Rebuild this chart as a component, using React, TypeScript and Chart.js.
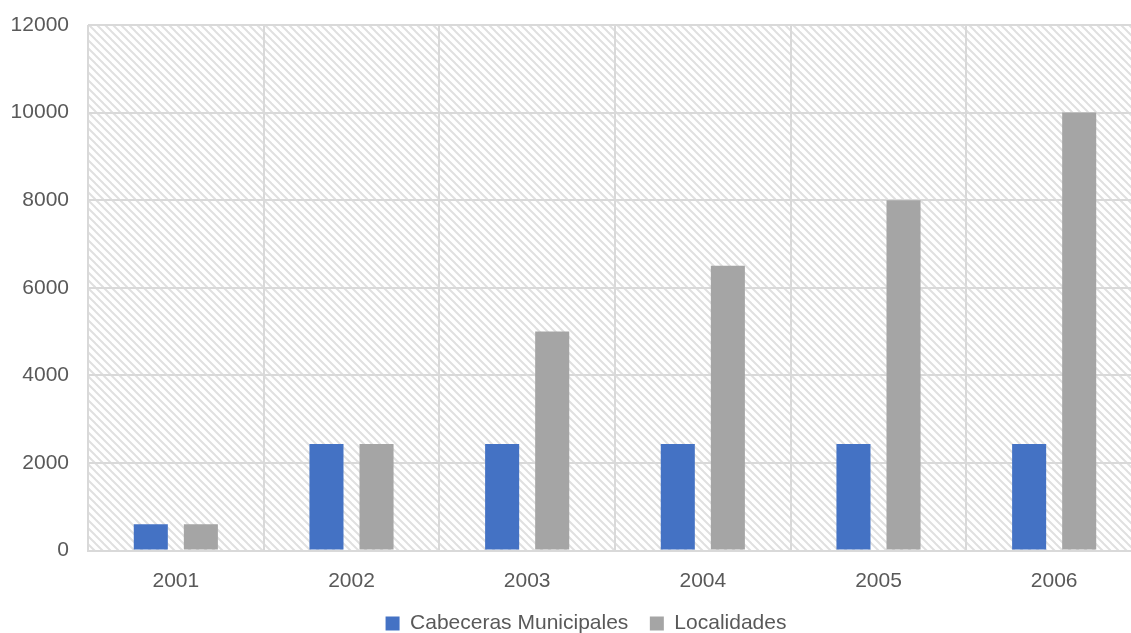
import React, { useEffect, useRef } from "react";
import { Chart, registerables } from "chart.js";

Chart.register(...registerables);

const years = ["2001", "2002", "2003", "2004", "2005", "2006"];
const cabeceras = [600, 2430, 2430, 2430, 2430, 2430];
const localidades = [600, 2430, 5000, 6500, 8000, 10000];
const yMax = 12000;
const yStep = 2000;

const FONT = "'Liberation Sans', Arial, sans-serif";
const TEXT = "#595959";
const GRID = "#d9d9d9";

// Light downward-diagonal hatch used as the plot-area fill
function makeHatch(): CanvasPattern | string {
  const c = document.createElement("canvas");
  c.width = 8;
  c.height = 8;
  const g = c.getContext("2d");
  if (!g) return "#ffffff";
  g.fillStyle = "#ffffff";
  g.fillRect(0, 0, 8, 8);
  g.strokeStyle = "#e0e0e0";
  g.lineWidth = 2;
  for (const k of [-8, 0, 8]) {
    g.beginPath();
    g.moveTo(k - 1, -1);
    g.lineTo(k + 9, 9);
    g.stroke();
  }
  return g.createPattern(c, "repeat") || "#ffffff";
}

const hatchBackground = {
  id: "hatchBackground",
  beforeDraw(chart: any) {
    const { ctx, chartArea } = chart;
    if (!chartArea) return;
    ctx.save();
    ctx.fillStyle = makeHatch();
    ctx.fillRect(
      chartArea.left,
      chartArea.top,
      chartArea.right - chartArea.left,
      chartArea.bottom - chartArea.top
    );
    ctx.restore();
  },
};

// Nudge the bottom legend a little to the right of the canvas centre
const legendShift = {
  id: "legendShift",
  afterLayout(chart: any) {
    const lg = chart.legend;
    if (!lg) return;
    lg.left += 15;
    lg.right += 15;
  },
};

export default function App() {
  const ref = useRef<HTMLCanvasElement | null>(null);

  useEffect(() => {
    if (!ref.current) return;
    const chart = new Chart(ref.current, {
      type: "bar",
      data: {
        labels: years,
        datasets: [
          {
            label: "Cabeceras Municipales",
            data: cabeceras,
            backgroundColor: "#4472C4",
            categoryPercentage: 0.57,
            barPercentage: 0.68,
          },
          {
            label: "Localidades",
            data: localidades,
            backgroundColor: "#A5A5A5",
            categoryPercentage: 0.57,
            barPercentage: 0.68,
          },
        ],
      },
      options: {
        responsive: false,
        animation: false,
        layout: { padding: { top: 25, right: 30, left: 0, bottom: 0 } },
        plugins: {
          tooltip: { enabled: false },
          legend: {
            position: "bottom",
            labels: {
              boxWidth: 14,
              boxHeight: 14,
              padding: 21.5,
              color: TEXT,
              font: { family: FONT, size: 21 },
            },
          },
        },
        scales: {
          x: {
            grid: { color: GRID, lineWidth: 2, drawTicks: false, offset: true },
            border: { color: GRID, width: 2 },
            ticks: {
              color: TEXT,
              padding: 18,
              font: { family: FONT, size: 21 },
            },
            afterFit(scale: any) {
              scale.height = 41;
            },
          },
          y: {
            min: 0,
            max: yMax,
            grid: { color: GRID, lineWidth: 2, drawTicks: false },
            border: { display: false },
            ticks: {
              stepSize: yStep,
              color: TEXT,
              padding: 19,
              font: { family: FONT, size: 21 },
              callback: (v: any) => String(v),
            },
            afterFit(scale: any) {
              scale.width = 88;
              scale.paddingTop = 0;
              scale.paddingBottom = 0;
            },
          },
        },
      },
      plugins: [hatchBackground, legendShift],
    });
    return () => chart.destroy();
  }, []);

  return (
    <div
      style={{
        position: "absolute",
        left: 0,
        top: 0,
        width: 1131,
        height: 633,
        overflow: "hidden",
        background: "#ffffff",
      }}
    >
      <canvas ref={ref} width={1172} height={644} />
    </div>
  );
}
